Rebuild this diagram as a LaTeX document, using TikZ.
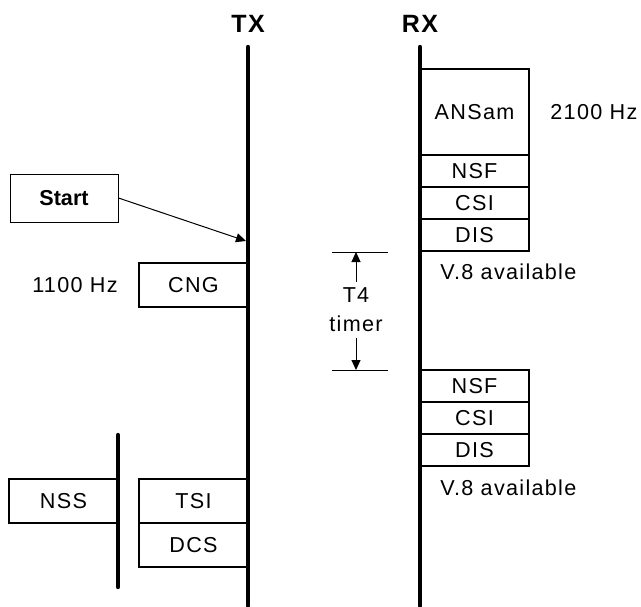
\documentclass[tikz,border=0pt]{standalone}
\usepackage{fontspec}
\setmainfont{Liberation Sans}
\usetikzlibrary{positioning,arrows.meta}
\newcommand{\sigfont}{\fontsize{10.8}{14.5}\selectfont\addfontfeatures{LetterSpace=6}}
\newcommand{\headfont}{\fontsize{12.5}{15}\selectfont\bfseries\addfontfeatures{LetterSpace=6}}
\tikzset{
  lifeline/.style={line width=2.2pt, line cap=round},
  sig/.style={draw, line width=1.3pt, minimum width=54.5pt, minimum height=16pt, inner sep=0pt, outer sep=0pt, font=\sigfont},
  note/.style={inner sep=0pt, font=\sigfont},
  head/.style={inner sep=0pt, font=\headfont},
  startbox/.style={draw, line width=0.5pt, minimum width=54pt, minimum height=24pt, inner sep=0pt, font=\fontsize{10.8}{12}\selectfont\bfseries},
  thinline/.style={line width=0.5pt},
  tip/.style={thinline, -{Triangle[length=5pt,width=4.5pt]}}
}

\begin{document}
\begin{tikzpicture}[x=0.5pt,y=-0.5pt] % pixel grid, y going down
\useasboundingbox (0,0) rectangle (641,606); % page size of the reference
\node[head] (tx) at (248,24) {TX};
\node[head] (rx) at (420,24) {RX};
\coordinate (txtop) at (248,47); \coordinate (txbot) at (248,606);
\coordinate (rxtop) at (420,47); \coordinate (rxbot) at (420,606);
\coordinate (nsstop) at (118,435); \coordinate (nssbot) at (118,587);
% RX side: answer tone and first DIS
\node[sig, minimum height=43pt, anchor=north west] (ansam) at (420,69) {ANSam};
\node[sig, below=0pt of ansam] (nsfa) {NSF};
\node[sig, below=0pt of nsfa] (csia) {CSI};
\node[sig, below=0pt of csia] (disa) {DIS};
\node[note, right=10.5pt of ansam] (hza) {2100 Hz};
\node[note, below right=6pt and 10pt of disa.south west] (vaa) {V.8 available};
% RX side: repeated DIS after T4
\node[sig, anchor=north west] (nsfb) at (420,370) {NSF};
\node[sig, below=0pt of nsfb] (csib) {CSI};
\node[sig, below=0pt of csib] (disb) {DIS};
\node[note, below right=6.5pt and 10pt of disb.south west] (vab) {V.8 available};
% T4 timer
\coordinate (t4a) at (332,252); \coordinate (t4b) at (388,252);
\coordinate (t4c) at (332,370); \coordinate (t4d) at (388,370);
\node[note, align=center, inner ysep=3pt] (t4) at (356,310) {T4\\timer};
\draw[thinline] (t4a) -- (t4b);
\draw[thinline] (t4c) -- (t4d);
\draw[tip] (t4.north) -- (t4.north |- t4a);
\draw[tip] (t4.south) -- (t4.south |- t4c);
% TX side
\node[startbox] (start) at (64,198) {Start};
\coordinate (startpt) at (246,241);
\draw[tip] (start.east) -- (startpt);
\node[sig, minimum height=22pt, anchor=north east] (cng) at (248,263) {CNG};
\node[note, left=10.5pt of cng] (hzc) {1100 Hz};
\node[sig, minimum height=22pt, anchor=north east] (nss) at (118,479) {NSS};
\node[sig, minimum height=22pt, anchor=north east] (tsi) at (248,479) {TSI};
\node[sig, minimum height=22pt, below=0pt of tsi] (dcs) {DCS};
% lifelines on top of the frame edges
\draw[lifeline] (txtop) -- (txbot);
\draw[lifeline] (rxtop) -- (rxbot);
\draw[lifeline] (nsstop) -- (nssbot);
\end{tikzpicture}
\end{document}
